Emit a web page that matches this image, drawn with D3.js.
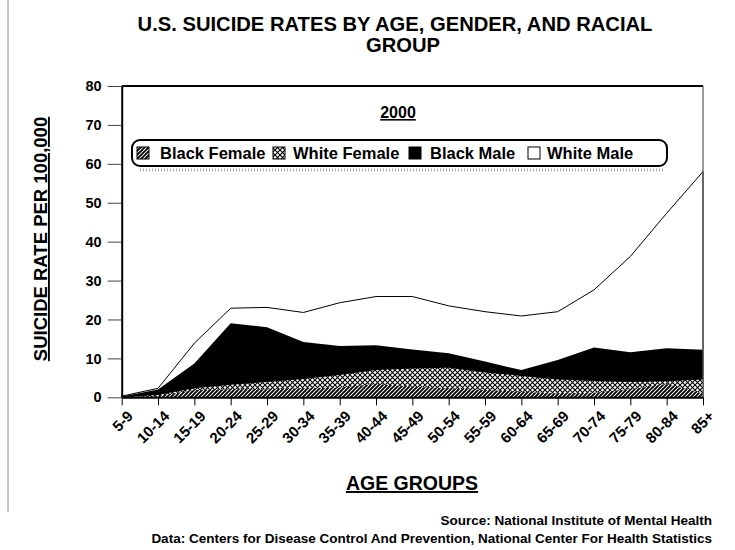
<!DOCTYPE html>
<html>
<head>
<meta charset="utf-8">
<script src="https://cdn.jsdelivr.net/npm/d3@7"></script>
<style>
  body { margin: 0; background: #fff; }
  svg { font-family: "Liberation Sans", Arial, sans-serif; font-weight: bold; }
</style>
</head>
<body>
<svg width="735" height="550"></svg>
<script>
// age groups on the x axis
const ages = ["5-9", "10-14", "15-19", "20-24", "25-29", "30-34", "35-39", "40-44",
  "45-49", "50-54", "55-59", "60-64", "65-69", "70-74", "75-79", "80-84", "85+"];

// rates per 100,000
const whiteMale   = [0.3, 2.3, 13.9, 22.9, 23.1, 21.8, 24.3, 25.9, 25.9, 23.5, 22.0, 20.9, 22.0, 27.6, 36.2, 47.3, 58.0];
const blackMale   = [0.2, 2.0, 8.7, 19.0, 18.0, 14.2, 13.2, 13.4, 12.3, 11.3, 9.2, 7.0, 9.6, 12.8, 11.6, 12.6, 12.2];
const whiteFemale = [0, 0.6, 2.3, 3.2, 3.9, 4.7, 5.7, 7.0, 7.4, 7.6, 6.4, 5.5, 4.6, 4.2, 3.9, 4.1, 4.6];
const blackFemale = [0, 0.3, 1.9, 2.1, 2.1, 2.3, 2.5, 3.4, 2.7, 2.3, 1.9, 1.4, 1.0, 1.2, 2.1, 3.4, 1.0];

const yTicks = [0, 10, 20, 30, 40, 50, 60, 70, 80];
const legendNames = ["Black Female", "White Female", "Black Male", "White Male"];

const svg = d3.select("svg");

// hatch patterns
const defs = svg.append("defs");
defs.append("pattern")
  .attr("id", "diag").attr("patternUnits", "userSpaceOnUse")
  .attr("width", 4).attr("height", 4)
  .call(p => {
    p.append("rect").attr("width", 4).attr("height", 4).attr("fill", "white");
    p.append("path").attr("d", "M-1,5 L5,-1 M-1,1 L1,-1 M3,5 L5,3")
      .attr("stroke", "black").attr("stroke-width", 1.9);
  });
defs.append("pattern")
  .attr("id", "cross").attr("patternUnits", "userSpaceOnUse")
  .attr("width", 5).attr("height", 5)
  .call(p => {
    p.append("rect").attr("width", 5).attr("height", 5).attr("fill", "white");
    p.append("path").attr("d", "M0,0 L5,5 M5,0 L0,5")
      .attr("stroke", "black").attr("stroke-width", 1.1);
  });

let xScale = d3.scalePoint().domain(ages).range([121.7, 703]);
let yScale = d3.scaleLinear().domain([0, 80]).range([397.3, 86]);

// left page edge line
svg.append("line")
  .attr("x1", 8).attr("x2", 8).attr("y1", 0).attr("y2", 512)
  .attr("stroke", "#8a8a8a").attr("stroke-width", 1);

// title
svg.append("text").attr("x", 395).attr("y", 31)
  .attr("text-anchor", "middle").attr("font-size", 20.2)
  .text("U.S. SUICIDE RATES BY AGE, GENDER, AND RACIAL");
svg.append("text").attr("x", 403).attr("y", 52)
  .attr("text-anchor", "middle").attr("font-size", 20.2)
  .text("GROUP");

// areas, drawn back to front
const series = [
  {name: "White Male", values: whiteMale, fill: "white"},
  {name: "Black Male", values: blackMale, fill: "black"},
  {name: "White Female", values: whiteFemale, fill: "url(#cross)"},
  {name: "Black Female", values: blackFemale, fill: "url(#diag)"}
];

let area = d3.area()
  .x((d, i) => xScale(ages[i]))
  .y0(yScale(0))
  .y1(d => yScale(d));

svg.selectAll("path.area")
  .data(series)
  .join("path")
  .attr("class", "area")
  .attr("d", d => area(d.values))
  .attr("fill", d => d.fill)
  .attr("stroke", d => d.name == "White Male" ? "black" : "none")
  .attr("stroke-width", 1);

// plot frame
svg.append("line")
  .attr("x1", xScale.range()[0]).attr("x2", xScale.range()[1])
  .attr("y1", yScale(80)).attr("y2", yScale(80))
  .attr("stroke", "black").attr("stroke-width", 2);
svg.append("line")
  .attr("x1", xScale.range()[1]).attr("x2", xScale.range()[1])
  .attr("y1", yScale(80)).attr("y2", yScale(0))
  .attr("stroke", "#555").attr("stroke-width", 1.2);

// y axis
let yAxis = d3.axisLeft().scale(yScale)
  .tickValues(yTicks).tickSizeOuter(0).tickSizeInner(14).tickPadding(6);
d3.select("svg").append("g")
  .attr("id", "yAxisG")
  .attr("transform", `translate(${xScale.range()[0]}, 0)`)
  .call(yAxis);
d3.selectAll("#yAxisG path.domain").attr("stroke", "black").attr("stroke-width", 2);
d3.selectAll("#yAxisG g.tick line").attr("stroke", "#444");
d3.selectAll("#yAxisG text")
  .attr("font-size", 14.5).attr("font-family", "Liberation Sans, Arial")
  .attr("font-weight", "bold").attr("fill", "black");

// x axis
let xAxis = d3.axisBottom().scale(xScale)
  .tickSizeOuter(0).tickSizeInner(8);
d3.select("svg").append("g")
  .attr("id", "xAxisG")
  .attr("transform", `translate(0, ${yScale(0)})`)
  .call(xAxis);
d3.selectAll("#xAxisG path.domain").attr("stroke", "black").attr("stroke-width", 2);
d3.selectAll("#xAxisG g.tick line").attr("stroke", "black");
d3.selectAll("#xAxisG text")
  .attr("font-size", 15).attr("font-family", "Liberation Sans, Arial")
  .attr("font-weight", "bold").attr("fill", "black")
  .attr("text-anchor", "end")
  .attr("dy", null)
  .attr("transform", "translate(4, 12) rotate(-45)");

// year label
svg.append("text").attr("x", 398).attr("y", 118)
  .attr("text-anchor", "middle").attr("font-size", 16)
  .attr("text-decoration", "underline")
  .text("2000");

// legend
const legend = svg.append("g").attr("id", "legend");
legend.append("line")
  .attr("x1", 140).attr("x2", 664).attr("y1", 170).attr("y2", 170)
  .attr("stroke", "#aaa").attr("stroke-width", 3).attr("stroke-dasharray", "1,2");
legend.append("rect")
  .attr("x", 132).attr("y", 140).attr("width", 535).attr("height", 26)
  .attr("rx", 8).attr("fill", "white").attr("stroke", "black").attr("stroke-width", 2);
const swatchX = [137, 273, 409, 528];
const labelX = [160, 293, 430, 547];
const swatchFill = ["url(#diag)", "url(#cross)", "black", "white"];
legend.selectAll("rect.swatch")
  .data(legendNames)
  .join("rect")
  .attr("class", "swatch")
  .attr("x", (d, i) => swatchX[i]).attr("y", 147)
  .attr("width", 12).attr("height", 12)
  .attr("fill", (d, i) => swatchFill[i])
  .attr("stroke", "black").attr("stroke-width", 1);
legend.selectAll("text")
  .data(legendNames)
  .join("text")
  .attr("x", (d, i) => labelX[i]).attr("y", 159)
  .attr("font-size", 16.5)
  .text(d => d);

// axis titles
svg.append("text")
  .attr("transform", "translate(47, 239) rotate(-90)")
  .attr("text-anchor", "middle").attr("font-size", 18.5)
  .attr("text-decoration", "underline")
  .text("SUICIDE RATE PER 100,000");
svg.append("text").attr("x", 412).attr("y", 490)
  .attr("text-anchor", "middle").attr("font-size", 19.5)
  .attr("text-decoration", "underline")
  .text("AGE GROUPS");

// source notes
svg.append("text").attr("x", 712).attr("y", 525)
  .attr("text-anchor", "end").attr("font-size", 13.5)
  .text("Source: National Institute of Mental Health");
svg.append("text").attr("x", 712).attr("y", 543)
  .attr("text-anchor", "end").attr("font-size", 13.5)
  .text("Data: Centers for Disease Control And Prevention, National Center For Health Statistics");
</script>
</body>
</html>
